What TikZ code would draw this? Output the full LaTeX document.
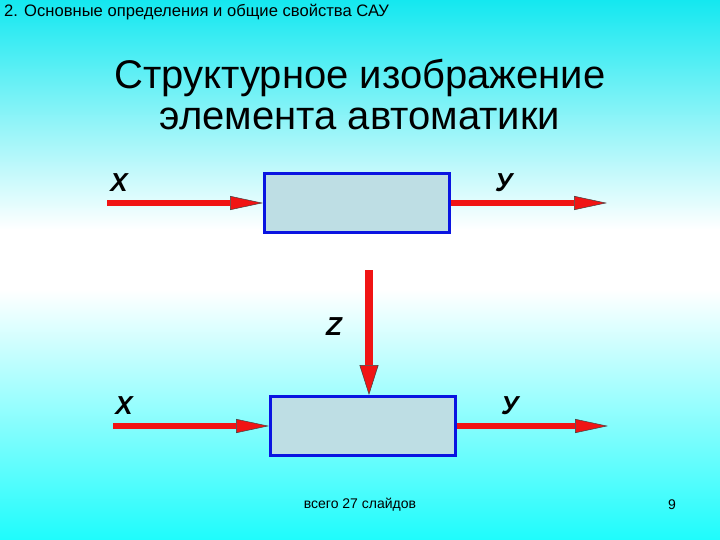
\documentclass[tikz,border=0pt]{standalone}
\usepackage{fontspec}
\setmainfont{Liberation Sans}
\usetikzlibrary{arrows.meta, positioning, calc}

\definecolor{bgcyan}{RGB}{20,232,240}
\definecolor{bgcyanlow}{RGB}{30,252,252}
\definecolor{boxfill}{RGB}{190,222,228}
\definecolor{boxblue}{RGB}{10,20,225}
\definecolor{sigred}{RGB}{240,20,20}

\begin{document}
\begin{tikzpicture}[
		x=1pt, y=-1pt,
		node distance=2.5cm,
		box/.style={rectangle, draw=boxblue, line width=3pt, fill=boxfill, minimum width=185pt, minimum height=59pt, inner sep=0pt},
		signal/.style={draw=sigred, line width=5.5pt, -{Triangle[length=33pt, width=14pt, fill=sigred, color=black!75, line width=0.5pt]}},
		disturb/.style={draw=sigred, line width=8pt, -{Triangle[length=30pt, width=19pt, fill=sigred, color=black!75, line width=0.5pt]}},
		varlabel/.style={font=\fontsize{26}{28}\selectfont\bfseries\itshape, inner sep=0pt},
		title/.style={font=\fontsize{40}{41}\selectfont, align=center},
		label/.style={font=\fontsize{14}{16}\selectfont, inner sep=0pt}
		]
		
		% Background (cyan -> white -> cyan)
		\shade[top color=bgcyan, bottom color=white] (0,0) rectangle (720,230);
		\fill[white] (0,229) rectangle (720,291);
		\shade[top color=white, bottom color=bgcyanlow] (0,290) rectangle (720,540);
		\useasboundingbox (0,0) rectangle (720,540);
		
		% Header and title
		\node[label, font=\fontsize{16.6}{18}\selectfont, anchor=west] (header) at (4,12) {2. Основные определения и общие свойства САУ};
		\node[title] (heading) at (360,95) {Структурное изображение\\элемента автоматики};
		
		% Main boxes
		\node[box] (element) at (357,203) {};
		\node[box, below=161pt of element, xshift=6pt] (elementz) {};
		
		% Free ends of the signals
		\coordinate[left=156pt of element.west] (xin);
		\coordinate[right=156pt of element.east] (yout);
		\coordinate[left=156pt of elementz.west] (xinz);
		\coordinate[right=151pt of elementz.east] (youtz);
		\coordinate (zin) at ($(elementz.north)+(6,-125)$);
		
		% Arrows
		\draw[signal] (xin) -- (element.west);
		\draw[signal] (element.east) -- (yout);
		\draw[signal] (xinz) -- (elementz.west);
		\draw[signal] (elementz.east) -- (youtz);
		\draw[disturb] (zin) -- (zin |- elementz.north);
		
		% Labels above arrows
		\node[varlabel] (xlab) at (119,183) {X};
		\node[varlabel] (ylab) at (504,183) {У};
		\node[varlabel] (zlab) at (334,327) {Z};
		\node[varlabel] (xlabz) at (124,406) {X};
		\node[varlabel] (ylabz) at (510,406) {У};
		
		% Footer
		\node[label] (total) at (360,505) {всего 27 слайдов};
		\node[label] (page) at (672,505) {9};
		
	\end{tikzpicture}
\end{document}
